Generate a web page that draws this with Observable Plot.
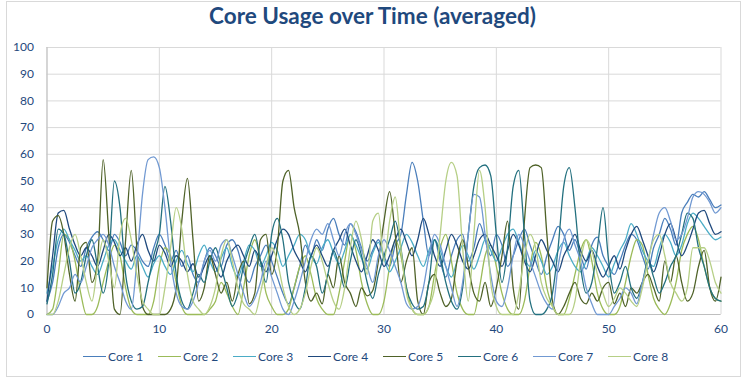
<!DOCTYPE html>
<html>
<head>
<meta charset="utf-8">
<script src="https://cdn.jsdelivr.net/npm/d3@7"></script>
<script src="https://cdn.jsdelivr.net/npm/@observablehq/plot@0.6"></script>
<style>
  body { margin: 0; background: #fff; }
  #wrap { position: relative; width: 751px; height: 385px; overflow: hidden; font-family: Lato, "Open Sans", sans-serif; }
  #frame { position: absolute; left: 6px; top: 1px; width: 735px; height: 376px; border: 1px solid #d9d9d9; box-sizing: border-box; }
  #title { position: absolute; left: 0; width: 745px; top: 2px; text-align: center; font-size: 22.5px; font-weight: bold; color: #1f497d; }
  #chart { position: absolute; left: 0; top: 0; }
  #legend { position: absolute; left: 83px; top: 349px; display: flex; }
  .item { width: 75px; display: flex; align-items: center; font-size: 12px; color: #1f497d; }
  .sw { width: 23px; height: 0; border-top: 1.5px solid; margin-right: 2px; }
</style>
</head>
<body>
<div id="wrap">
  <div id="frame"></div>
  <div id="chart"></div>
  <div id="title">Core Usage over Time (averaged)</div>
  <div id="legend"></div>
</div>
<script>
const cores = ["Core 1", "Core 2", "Core 3", "Core 4", "Core 5", "Core 6", "Core 7", "Core 8"];
const colors = ["#4a7ebb", "#9bbb59", "#4bacc6", "#1f497d", "#4f6228", "#23707f", "#7199d2", "#b6cf86"];
const xTicks = [0, 10, 20, 30, 40, 50, 60];
const yTicks = [0, 10, 20, 30, 40, 50, 60, 70, 80, 90, 100];
// sample times 0, 0.5, ..., 60
const times = d3.range(0, 60.25, 0.5);

const core1 = [5,12,25,30,27,22,18,25,29,31, 28,24,30,27,22,26,24,20,18,25, 30,26,20,24,18,22,15,12,20,25, 22,18,26,28,24,16,12,18,22,26,
  20,14,8,4,10,18,26,22,28,24, 32,36,30,26,34,31,25,20,24,28, 22,18,26,30,45,57,50,35,22,28, 20,14,22,28,30,20,25,34,28,22,
  30,26,18,22,28,32,26,20,15,22, 28,33,30,24,28,22,17,26,29,22, 18,15,20,26,30,28,22,17,25,30, 36,32,26,38,42,45,44,46,43,40, 41];
const core2 = [0,2,15,30,28,20,8,0,0,3, 12,20,26,22,10,2,0,0,0,5, 18,25,22,12,3,0,0,0,0,2, 5,12,8,3,0,10,22,28,20,8,
  3,0,0,2,10,18,22,15,6,2, 0,0,8,20,30,24,12,4,0,0, 5,18,28,22,10,2,0,0,3,15, 25,30,20,8,2,0,0,10,22,26,
  18,8,2,0,0,5,18,27,22,10, 3,0,0,6,15,24,28,20,8,2, 0,0,3,12,22,28,26,15,6,2, 0,4,12,24,30,33,28,18,10,6, 5];
const core3 = [8,18,28,32,28,24,20,22,18,15, 20,26,28,24,20,17,22,18,14,19, 22,18,15,20,24,19,16,22,26,20, 16,21,25,18,14,20,26,24,18,22,
  27,24,18,22,26,30,28,22,19,25, 28,23,19,24,30,26,21,17,23,27, 21,16,20,25,30,27,22,18,24,28, 24,18,14,20,26,22,17,22,28,24,
  20,25,30,32,27,21,18,24,20,15, 18,24,27,22,18,16,20,25,22,18, 14,19,24,28,34,30,24,20,18,25, 30,27,22,26,34,38,36,33,30,28, 29];
const core4 = [5,22,38,39,32,26,22,25,22,18, 24,30,27,22,25,20,26,30,24,20, 26,23,18,22,20,16,19,14,18,22, 18,14,20,24,26,22,18,24,20,16,
  22,28,32,30,24,20,16,22,26,22, 18,24,28,32,26,20,16,22,28,24, 18,22,28,32,27,22,28,36,30,22, 18,24,30,26,20,17,22,28,30,26,
  22,18,24,30,26,20,16,22,28,24, 20,16,22,26,30,24,20,24,18,14, 18,22,17,24,30,33,28,22,16,22, 30,34,28,22,26,32,38,39,34,30, 31];
const core5 = [10,35,37,30,15,5,25,27,12,20, 58,30,2,0,28,54,25,3,0,0, 0,0,2,10,35,51,28,5,10,22, 15,8,12,5,15,20,4,8,28,30,
  15,25,50,54,40,30,12,5,8,4, 15,10,22,12,8,3,10,7,9,20, 35,46,30,12,20,25,5,0,12,15, 8,3,6,20,28,18,8,5,12,3,
  10,22,35,10,2,35,55,56,55,30, 5,0,3,8,12,6,4,8,5,10, 12,4,8,3,10,8,12,15,10,5, 20,12,22,12,5,8,18,24,10,5, 14];
const core6 = [4,15,32,30,20,8,12,22,28,18, 8,20,50,40,15,5,2,3,12,22, 30,48,35,15,5,2,8,15,12,20, 25,18,10,3,8,18,25,30,20,12,
  30,36,28,12,5,2,10,22,18,8, 15,24,18,10,20,28,22,12,6,15, 22,28,35,25,10,4,2,3,12,28, 22,12,5,2,10,30,48,55,56,52,
  30,12,25,48,54,30,5,0,0,2, 8,25,48,55,40,18,8,12,25,40, 20,8,12,18,10,6,12,20,14,8, 12,18,22,30,38,36,25,18,10,6, 5];
const core7 = [0,0,3,8,10,15,12,18,25,28, 30,26,18,12,5,2,20,45,58,59, 55,40,20,8,3,2,5,12,20,24, 20,26,28,22,15,8,3,6,12,20,
  14,8,2,0,5,12,20,28,32,30, 34,28,22,30,34,30,24,18,12,22, 28,24,18,12,4,2,3,10,22,30, 26,18,10,3,12,30,45,44,30,15,
  5,3,10,22,30,26,20,14,8,4, 2,18,28,32,26,20,10,4,0,0, 0,3,6,10,8,4,12,20,30,38, 40,35,28,30,36,44,46,45,42,38, 40];
const core8 = [0,0,5,15,25,30,22,12,5,18, 28,20,10,30,36,28,15,5,2,0, 0,10,25,40,32,15,5,2,0,3, 10,22,28,20,10,4,2,0,8,18,
  25,20,10,3,0,2,8,18,25,20, 12,5,2,10,25,35,28,15,35,38, 20,35,44,25,8,2,0,0,3,10, 30,50,57,52,25,5,30,54,40,12,
  3,0,0,0,8,22,30,25,12,6, 3,0,0,0,5,20,28,24,15,8, 3,6,10,8,5,3,10,20,28,30, 22,12,8,5,10,25,25,25,20,12, 8];

const seriesValues = [core1, core2, core3, core4, core5, core6, core7, core8];
const data = cores.flatMap((name, i) => seriesValues[i].map((v, j) => ({t: times[j], v, core: name})));

const chart = Plot.plot({
  width: 751,
  height: 385,
  marginLeft: 46.5,
  marginRight: 30.5,
  marginTop: 47,
  marginBottom: 71,
  style: {fontFamily: "Lato, 'Open Sans', sans-serif", fontSize: "12px", color: "#1f497d", background: "transparent"},
  x: {domain: [0, 60], ticks: xTicks},
  y: {domain: [0, 100], ticks: yTicks},
  color: {domain: cores, range: colors},
  marks: [
    Plot.gridY(yTicks, {stroke: "#d9d9d9", strokeOpacity: 1}),
    Plot.gridX(xTicks, {stroke: "#d9d9d9", strokeOpacity: 1}),
    Plot.ruleX([0], {stroke: "#bfbfbf"}),
    Plot.ruleY([0], {stroke: "#bfbfbf"}),
    Plot.lineY(data, {x: "t", y: "v", z: "core", stroke: "core", curve: "monotone-x", strokeWidth: 1.3}),
    Plot.axisY(yTicks, {tickSize: 0, tickPadding: 13, label: null, fill: "#1f497d"}),
    Plot.axisX(xTicks, {tickSize: 0, tickPadding: 10, label: null, fill: "#1f497d"})
  ]
});
document.getElementById("chart").appendChild(chart);

const legend = document.getElementById("legend");
cores.forEach((name, i) => {
  const it = document.createElement("div");
  it.className = "item";
  const sw = document.createElement("span");
  sw.className = "sw";
  sw.style.borderTopColor = colors[i];
  const tx = document.createElement("span");
  tx.textContent = name;
  it.appendChild(sw); it.appendChild(tx);
  legend.appendChild(it);
});
</script>
</body>
</html>
